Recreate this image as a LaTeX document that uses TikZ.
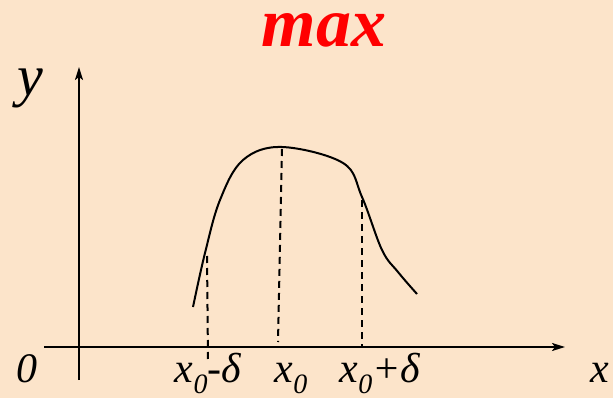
\documentclass[tikz,border=0pt]{standalone}
\usepackage{fontspec}
\setmainfont{Liberation Serif}
\usetikzlibrary{arrows.meta}
\definecolor{bgc}{RGB}{252,228,202}
\newcommand\xsubz{{\itshape x}\raisebox{-11pt}{\fontsize{28}{28}\selectfont\itshape 0}}
\tikzset{
  axis/.style={line width=2pt,-{Stealth[length=13pt,width=8pt,inset=3pt]}},
  curveline/.style={line width=2pt},
  guide/.style={line width=2pt,dash pattern=on 7pt off 5pt},
  lbl/.style={anchor=base,inner sep=0pt,font=\fontsize{42}{42}\selectfont\itshape},
}
\begin{document}
\begin{tikzpicture}[x=1pt,y=-1pt]
\fill[bgc] (0,0) rectangle (613,398);
\useasboundingbox (0,0) rectangle (613,398);
\begin{scope}
\clip (0,0) rectangle (613,398);
\coordinate (xs) at (44,347);
\coordinate (xe) at (565,347);
\coordinate (ys) at (79,380);
\coordinate (ye) at (79,67);
\draw[axis] (xs) -- (xe);
\draw[axis] (ys) -- (ye);
\draw[curveline] plot[smooth,tension=0.6] coordinates {(193,307) (205,253) (220,200) (243,160) (282,147) (343,163) (362,197) (382,250) (398,272) (417,294)};
\coordinate (l1) at (207,256); \coordinate (l2) at (208,360);
\coordinate (m1) at (282,149); \coordinate (m2) at (278,342);
\coordinate (r1) at (362,200); \coordinate (r2) at (362,347);
\draw[guide] (l1) -- (l2);
\draw[guide] (m1) -- (m2);
\draw[guide] (r1) -- (r2);
\node[lbl] (zero) at (27,382) {0};
\node[lbl] (xl) at (600,382) {x};
\node[lbl,font=\fontsize{58}{58}\selectfont\itshape] (yl) at (30,96) {y};
\node[lbl] (a) at (208,382) {\xsubz-δ};
\node[lbl] (b) at (291,382) {\xsubz};
\node[lbl] (c) at (380,382) {\xsubz+δ};
\node[anchor=base,inner sep=0pt,text=red,text height=36pt,text depth=0pt,font=\fontsize{70}{70}\selectfont\bfseries\itshape] (t) at (324,47) {max};
\end{scope}
\end{tikzpicture}
\end{document}
